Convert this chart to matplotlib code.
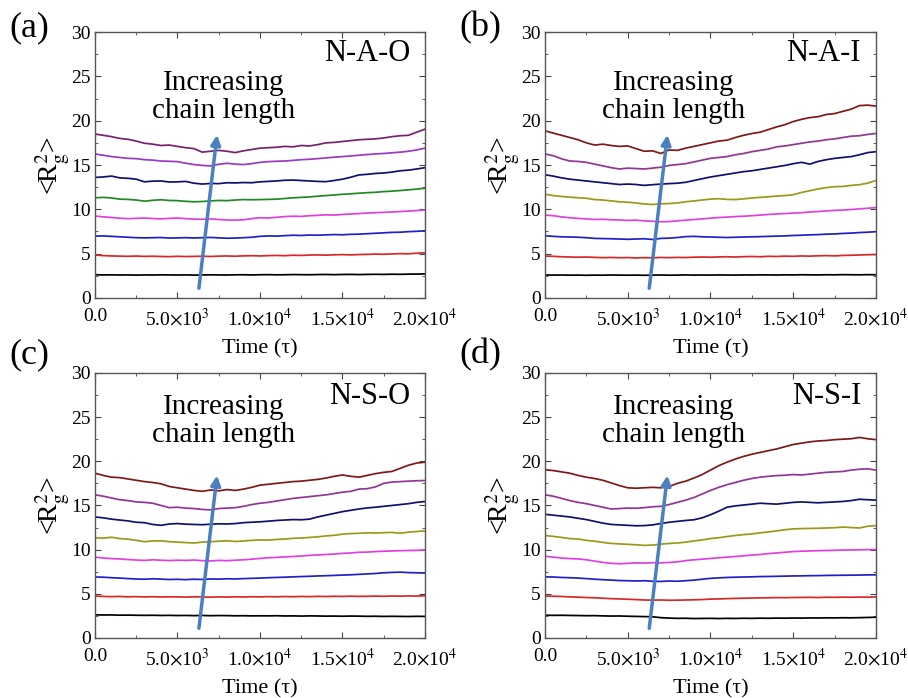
import numpy as np
import matplotlib
matplotlib.use("Agg")
from matplotlib import pyplot as plt
from matplotlib.ticker import FuncFormatter, AutoMinorLocator

plt.rcParams['font.family'] = ['Liberation Serif', 'DejaVu Serif']
plt.rcParams['mathtext.fontset'] = 'stix'

# time axis (tau), sampled every 500
time = np.arange(0, 20001, 500)

# ---- panel (a) N-A-O
a1 = [2.62,2.60,2.61,2.59,2.60,2.58,2.60,2.59,2.61,2.60,
      2.59,2.60,2.58,2.60,2.61,2.60,2.59,2.61,2.62,2.60,
      2.62,2.63,2.61,2.62,2.64,2.63,2.62,2.64,2.65,2.63,
      2.65,2.66,2.64,2.66,2.67,2.66,2.68,2.67,2.69,2.70,2.71]
a2 = [4.85,4.78,4.74,4.72,4.70,4.73,4.69,4.71,4.68,4.66,
      4.70,4.67,4.69,4.71,4.68,4.72,4.74,4.71,4.75,4.77,
      4.74,4.78,4.80,4.77,4.82,4.80,4.84,4.86,4.83,4.87,
      4.89,4.86,4.90,4.92,4.95,4.93,4.97,5.00,4.98,5.05,5.10]
a3 = [6.98,7.00,6.95,6.90,6.85,6.80,6.78,6.80,6.82,6.76,
      6.78,6.80,6.77,6.80,6.83,6.78,6.74,6.76,6.80,6.85,
      6.95,7.00,6.98,7.03,7.08,7.05,7.10,7.08,7.12,7.15,
      7.13,7.18,7.20,7.25,7.30,7.35,7.40,7.42,7.48,7.52,7.58]
a4 = [9.25,9.15,9.08,9.00,8.95,8.98,9.02,8.96,8.92,8.98,
      9.02,8.95,8.90,8.88,8.92,8.85,8.80,8.78,8.82,8.95,
      9.05,9.02,9.10,9.18,9.22,9.20,9.28,9.32,9.38,9.35,
      9.42,9.48,9.52,9.58,9.62,9.66,9.70,9.75,9.80,9.86,9.92]
a5 = [11.30,11.35,11.28,11.15,11.12,11.05,10.92,11.02,11.08,11.00,
      10.98,10.90,10.85,10.88,10.95,11.00,10.98,11.05,11.10,11.08,
      11.10,11.12,11.15,11.22,11.30,11.35,11.40,11.48,11.55,11.62,
      11.70,11.75,11.82,11.88,11.92,12.00,12.05,12.12,12.20,12.28,12.38]
a6 = [13.60,13.65,13.75,13.55,13.50,13.40,13.10,13.18,13.20,13.08,
      13.10,13.15,12.95,12.85,12.92,12.90,13.00,12.98,13.02,13.00,
      13.10,13.15,13.20,13.28,13.30,13.25,13.20,13.15,13.12,13.25,
      13.40,13.62,13.88,13.95,14.05,14.10,14.20,14.35,14.42,14.55,14.70]
a7 = [16.25,16.10,15.95,15.85,15.75,15.72,15.60,15.55,15.45,15.42,
      15.38,15.20,15.05,14.95,14.90,15.08,15.20,15.10,15.05,15.15,
      15.30,15.38,15.42,15.45,15.52,15.60,15.65,15.72,15.80,15.88,
      15.95,16.02,16.10,16.18,16.25,16.30,16.38,16.45,16.55,16.70,16.90]
a8 = [18.50,18.35,18.20,18.00,17.90,17.70,17.45,17.35,17.20,17.25,
      17.10,16.95,16.85,16.45,16.55,16.65,16.55,16.40,16.60,16.75,
      16.90,16.95,17.00,17.10,17.05,17.20,17.15,17.30,17.50,17.55,
      17.65,17.75,17.85,17.90,17.95,18.05,18.20,18.30,18.35,18.70,19.05]

# ---- panel (b) N-A-I
b1 = [2.60,2.58,2.59,2.57,2.58,2.56,2.58,2.57,2.59,2.58,
      2.57,2.58,2.56,2.58,2.59,2.57,2.58,2.60,2.58,2.59,
      2.58,2.60,2.59,2.58,2.60,2.59,2.61,2.60,2.59,2.61,
      2.60,2.62,2.61,2.60,2.62,2.61,2.63,2.62,2.61,2.63,2.62]
b2 = [4.72,4.70,4.65,4.62,4.60,4.62,4.58,4.55,4.57,4.54,
      4.56,4.52,4.55,4.53,4.57,4.55,4.58,4.56,4.60,4.62,
      4.60,4.63,4.65,4.62,4.66,4.68,4.65,4.70,4.68,4.72,
      4.70,4.74,4.72,4.76,4.78,4.75,4.80,4.82,4.85,4.88,4.90]
b3 = [7.02,6.95,6.90,6.88,6.85,6.80,6.72,6.70,6.68,6.65,
      6.62,6.65,6.68,6.60,6.72,6.75,6.82,6.92,6.95,6.90,
      6.88,6.85,6.82,6.85,6.88,6.90,6.92,6.95,6.98,7.00,
      7.05,7.08,7.12,7.15,7.20,7.22,7.28,7.32,7.38,7.42,7.48]
b4 = [9.35,9.28,9.15,9.05,8.98,8.92,8.85,8.88,8.82,8.80,
      8.75,8.78,8.70,8.65,8.60,8.62,8.70,8.78,8.85,8.92,
      9.00,9.08,9.12,9.18,9.22,9.28,9.35,9.42,9.48,9.52,
      9.58,9.62,9.70,9.75,9.82,9.88,9.92,9.98,10.05,10.12,10.20]
b5 = [11.70,11.55,11.45,11.38,11.30,11.25,11.10,11.05,10.95,10.85,
      10.80,10.72,10.60,10.55,10.62,10.65,10.72,10.85,10.95,11.05,
      11.15,11.20,11.12,11.10,11.18,11.28,11.35,11.42,11.50,11.55,
      11.65,11.90,12.10,12.30,12.45,12.55,12.58,12.70,12.78,12.95,13.25]
b6 = [13.90,13.75,13.55,13.40,13.30,13.20,13.10,13.00,12.90,12.80,
      12.85,12.80,12.70,12.78,12.85,12.90,12.95,13.05,13.25,13.45,
      13.65,13.80,13.95,14.10,14.25,14.35,14.50,14.65,14.80,14.95,
      15.15,15.30,15.10,15.40,15.60,15.75,15.85,15.95,16.15,16.40,16.50]
b7 = [16.25,16.05,15.70,15.45,15.40,15.30,15.10,14.90,14.70,14.55,
      14.65,14.60,14.55,14.65,14.75,14.95,15.05,15.15,15.35,15.55,
      15.75,15.85,15.95,16.15,16.30,16.50,16.65,16.80,17.05,17.15,
      17.30,17.45,17.60,17.70,17.85,17.95,18.10,18.25,18.30,18.45,18.55]
b8 = [18.85,18.60,18.35,18.10,17.85,17.50,17.25,17.35,17.20,17.10,
      17.15,16.85,16.55,16.60,16.30,16.70,16.65,16.90,17.10,17.30,
      17.50,17.70,17.80,18.10,18.35,18.55,18.70,19.00,19.30,19.55,
      19.90,20.15,20.35,20.45,20.70,20.80,21.05,21.30,21.70,21.75,21.65]

# ---- panel (c) N-S-O
c1 = [2.62,2.60,2.61,2.58,2.59,2.57,2.56,2.57,2.55,2.56,
      2.54,2.55,2.53,2.55,2.52,2.54,2.53,2.51,2.52,2.50,
      2.51,2.50,2.52,2.49,2.50,2.48,2.50,2.49,2.47,2.48,
      2.46,2.48,2.47,2.45,2.46,2.44,2.45,2.44,2.43,2.45,2.44]
c2 = [4.75,4.70,4.68,4.70,4.66,4.68,4.65,4.67,4.64,4.66,
      4.65,4.63,4.66,4.64,4.62,4.65,4.63,4.66,4.64,4.67,
      4.65,4.68,4.66,4.69,4.67,4.70,4.68,4.71,4.69,4.72,
      4.70,4.73,4.71,4.72,4.74,4.72,4.75,4.73,4.76,4.74,4.78]
c3 = [6.90,6.88,6.82,6.78,6.72,6.68,6.65,6.70,6.66,6.62,
      6.64,6.60,6.65,6.62,6.68,6.66,6.70,6.68,6.72,6.75,
      6.78,6.82,6.85,6.88,6.92,6.95,6.98,7.02,7.05,7.08,
      7.12,7.15,7.20,7.25,7.30,7.38,7.42,7.45,7.40,7.38,7.35]
c4 = [9.15,9.05,8.98,8.95,8.88,8.82,8.78,8.85,8.80,8.76,
      8.80,8.78,8.82,8.75,8.72,8.78,8.75,8.80,8.85,8.92,
      9.00,9.08,9.12,9.18,9.22,9.28,9.35,9.40,9.45,9.50,
      9.58,9.62,9.70,9.72,9.78,9.82,9.85,9.88,9.90,9.92,9.98]
c5 = [11.35,11.30,11.40,11.25,11.18,11.05,10.90,10.98,11.00,10.90,
      10.85,10.80,10.75,10.85,10.90,10.95,11.00,10.92,10.98,11.05,
      11.10,11.08,11.15,11.20,11.28,11.32,11.38,11.45,11.55,11.62,
      11.75,11.82,11.85,11.90,11.88,11.92,11.95,11.85,11.98,12.05,12.12]
c6 = [13.70,13.60,13.45,13.35,13.25,13.10,13.05,12.85,12.75,12.90,
      12.95,12.88,12.85,12.82,12.88,12.92,12.90,12.95,13.05,13.10,
      13.15,13.22,13.30,13.35,13.40,13.38,13.45,13.70,13.90,14.10,
      14.30,14.45,14.60,14.72,14.80,14.90,15.00,15.10,15.20,15.35,15.45]
c7 = [16.20,16.05,15.85,15.65,15.55,15.40,15.35,15.25,15.00,14.75,
      14.80,14.70,14.65,14.55,14.50,14.65,14.70,14.75,14.90,15.10,
      15.25,15.35,15.50,15.65,15.80,15.90,16.00,16.10,16.20,16.35,
      16.50,16.60,16.85,16.90,17.10,17.50,17.65,17.70,17.75,17.80,17.82]
c8 = [18.65,18.40,18.20,18.15,18.00,17.85,17.70,17.60,17.45,17.15,
      17.00,16.85,16.70,16.60,16.75,16.65,16.80,16.70,16.85,17.05,
      17.30,17.40,17.50,17.60,17.70,17.75,17.85,17.95,18.10,18.30,
      18.45,18.30,18.20,18.40,18.60,18.75,18.85,19.20,19.55,19.80,19.90]

# ---- panel (d) N-S-I
d1 = [2.58,2.56,2.57,2.55,2.54,2.52,2.53,2.50,2.48,2.49,
      2.46,2.44,2.42,2.40,2.30,2.25,2.22,2.23,2.20,2.21,
      2.22,2.20,2.22,2.21,2.23,2.22,2.24,2.23,2.25,2.24,
      2.26,2.25,2.27,2.26,2.28,2.27,2.29,2.28,2.30,2.32,2.35]
d2 = [4.75,4.72,4.70,4.65,4.62,4.58,4.55,4.50,4.45,4.42,
      4.38,4.35,4.30,4.28,4.30,4.27,4.28,4.30,4.32,4.35,
      4.40,4.42,4.45,4.48,4.50,4.52,4.54,4.55,4.57,4.56,
      4.58,4.59,4.60,4.58,4.61,4.60,4.62,4.61,4.63,4.62,4.65]
d3 = [6.92,6.90,6.85,6.82,6.78,6.72,6.65,6.60,6.55,6.50,
      6.48,6.45,6.48,6.42,6.40,6.45,6.42,6.48,6.55,6.65,
      6.75,6.80,6.85,6.88,6.90,6.92,6.95,6.96,6.98,7.00,
      7.02,7.03,7.05,7.06,7.08,7.09,7.10,7.11,7.12,7.14,7.15]
d4 = [9.25,9.15,9.05,8.98,8.95,8.85,8.70,8.55,8.45,8.40,
      8.45,8.50,8.48,8.52,8.50,8.55,8.62,8.75,8.85,8.92,
      9.00,9.08,9.15,9.22,9.30,9.38,9.45,9.55,9.62,9.70,
      9.78,9.82,9.85,9.88,9.90,9.92,9.95,9.96,9.98,10.00,10.02]
d5 = [11.60,11.50,11.38,11.25,11.20,11.05,10.95,10.82,10.70,10.65,
      10.60,10.55,10.48,10.52,10.62,10.70,10.75,10.85,10.98,11.10,
      11.25,11.35,11.48,11.60,11.70,11.78,11.90,12.00,12.12,12.25,
      12.35,12.38,12.40,12.42,12.45,12.48,12.55,12.50,12.45,12.65,12.72]
d6 = [14.00,13.90,13.80,13.70,13.55,13.40,13.20,13.00,12.85,12.80,
      12.75,12.70,12.72,12.80,12.95,13.10,13.20,13.30,13.38,13.60,
      13.95,14.35,14.80,14.95,15.05,15.15,15.25,15.20,15.15,15.25,
      15.35,15.40,15.35,15.30,15.35,15.40,15.45,15.55,15.70,15.65,15.60]
d7 = [16.20,16.05,15.80,15.55,15.35,15.20,15.00,14.80,14.60,14.65,
      14.70,14.68,14.75,14.85,14.90,15.10,15.35,15.60,15.90,16.30,
      16.70,17.05,17.35,17.60,17.85,18.05,18.20,18.30,18.38,18.42,
      18.50,18.45,18.55,18.65,18.75,18.80,18.85,19.00,19.10,19.15,19.00]
d8 = [19.05,18.95,18.80,18.65,18.40,18.20,18.05,17.85,17.55,17.25,
      17.00,16.95,17.00,17.05,17.00,17.15,17.50,17.75,18.10,18.50,
      19.00,19.50,19.90,20.25,20.55,20.80,21.00,21.20,21.40,21.65,
      21.90,22.05,22.20,22.30,22.35,22.45,22.50,22.55,22.70,22.55,22.45]

colors_a = ['#000000', '#d82828', '#2020c8', '#e040e0', '#208a20', '#101070', '#9a38c8', '#7a2070']
colors_b = ['#000000', '#d82828', '#2020c8', '#e040e0', '#9a9a18', '#101070', '#943494', '#801818']

# label, name, series, colours, axes rect, y of panel letter, y of name, y of "Increasing" text
panels = [
    ('(a)', 'N-A-O', [a1, a2, a3, a4, a5, a6, a7, a8], colors_a, [0.1046, 0.5731, 0.3634, 0.381], 1.015, 0.921, 0.755),
    ('(b)', 'N-A-I', [b1, b2, b3, b4, b5, b6, b7, b8], colors_b, [0.6002, 0.5731, 0.3645, 0.381], 1.015, 0.921, 0.755),
    ('(c)', 'N-S-O', [c1, c2, c3, c4, c5, c6, c7, c8], colors_b, [0.1046, 0.086, 0.3634, 0.3797], 1.068, 0.91, 0.82),
    ('(d)', 'N-S-I', [d1, d2, d3, d4, d5, d6, d7, d8], colors_b, [0.6002, 0.086, 0.3645, 0.3797], 1.068, 0.91, 0.82),
]

# arrow start/end in data coords
arrow_tail = (6300, 1.1)
arrow_head = (7400, 18.4)


def sci_fmt(v, pos):
    if v == 0:
        return '0.0'
    e = int(np.floor(np.log10(abs(v))))
    m = v / 10**e
    return r'%.1f$\times$10$^{%d}$' % (m, e)


fig = plt.figure(figsize=(9.08, 6.98), dpi=100)
for lab, name, series, cols, rect, ylab, yname, ytxt in panels:
    ax = fig.add_axes(rect)
    for s, c in zip(series, cols):
        ax.plot(time, s, color=c, lw=1.25)
    ax.set_xlim(0, 20000)
    ax.set_ylim(0, 30)
    ax.set_xticks([0, 5000, 10000, 15000, 20000])
    ax.set_yticks([0, 5, 10, 15, 20, 25, 30])
    ax.xaxis.set_major_formatter(FuncFormatter(sci_fmt))
    ax.xaxis.set_minor_locator(AutoMinorLocator(2))
    ax.yaxis.set_minor_locator(AutoMinorLocator(2))
    ax.tick_params(which='both', direction='in', top=True, right=True, labelsize=14,
                   color='#444444')
    ax.tick_params(which='major', length=4)
    ax.tick_params(which='minor', length=2.5)
    ax.tick_params(axis='x', pad=7)
    ax.tick_params(axis='y', pad=3)
    for sp in ax.spines.values():
        sp.set_color('#555555')
        sp.set_linewidth(1.0)
    ax.set_xlabel('Time (τ)', fontsize=16, labelpad=7)
    ax.set_ylabel(r'<R$_\mathrm{g}^2$>', fontsize=20, labelpad=0)
    ax.text(0.955, yname, name, transform=ax.transAxes, ha='right', va='center', fontsize=22)
    ax.text(0.39, ytxt, 'Increasing\nchain length', transform=ax.transAxes,
            ha='center', va='center', fontsize=21, linespacing=1.1)
    ax.annotate('', xy=arrow_head, xytext=arrow_tail,
                arrowprops=dict(arrowstyle='-|>', color='#4a7fc0', lw=2.5,
                                mutation_scale=14, shrinkA=0, shrinkB=0))
    ax.text(-0.26, ylab, lab, transform=ax.transAxes, ha='left', va='center', fontsize=26)

fig.savefig('out.png', dpi=100)
